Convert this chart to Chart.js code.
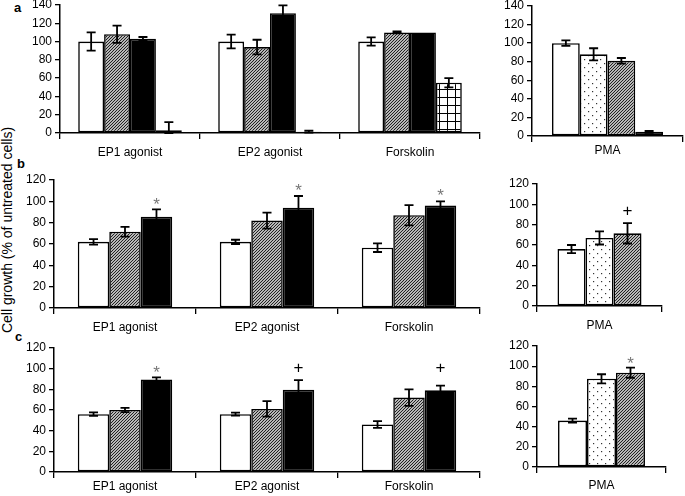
<!DOCTYPE html>
<html>
<head>
<meta charset="utf-8">
<script src="https://cdn.jsdelivr.net/npm/chart.js@4.4.0/dist/chart.umd.min.js"></script>
<style>
body { margin: 0; background: #fff; width: 685px; height: 496px; position: relative; overflow: hidden; font-family: 'Liberation Sans', Arial, sans-serif; }
canvas { position: absolute; }
.letter { position: absolute; font-weight: bold; font-size: 13px; line-height: 13px; }
#ytitle { position: absolute; left: 7px; top: 230px; font-size: 14px; white-space: nowrap; transform: translate(-50%, -50%) rotate(-90deg); }
</style>
</head>
<body>
<div class="letter" style="left:14px;top:1px">a</div>
<div class="letter" style="left:17px;top:157px">b</div>
<div class="letter" style="left:15px;top:330px">c</div>
<div id="ytitle">Cell growth (% of untreated cells)</div>
<canvas id="aLeft"></canvas>
<canvas id="aRight"></canvas>
<canvas id="bLeft"></canvas>
<canvas id="bRight"></canvas>
<canvas id="cLeft"></canvas>
<canvas id="cRight"></canvas>
<script>
const groupLabels = ['EP1 agonist', 'EP2 agonist', 'Forskolin'];
const pmaLabels = ['PMA'];

// panel a, agonists
const aWhite = [100, 100, 100];
const aWhiteErr = [10, 7.5, 4.5];
const aHatch = [108, 94, 110];
const aHatchErr = [9.5, 8, 1];
const aBlack = [103, 131, 110];
const aBlackErr = [2, 8.5, 0];
const aGrid = [3, 1.5, 55];
const aGridErr = [9, 1, 5];

// panel a, PMA
const aPmaWhite = [100];
const aPmaWhiteErr = [3];
const aPmaDots = [88];
const aPmaDotsErr = [6.5];
const aPmaHatch = [81];
const aPmaHatchErr = [3];
const aPmaBlack = [4.5];
const aPmaBlackErr = [1];

// panel b
const bWhite = [62, 62, 56.5];
const bWhiteErr = [2.5, 2, 4];
const bHatch = [71.5, 82, 87];
const bHatchErr = [4.5, 7.5, 9.5];
const bBlack = [85.5, 94, 96];
const bBlackErr = [7, 11, 4];
const bMarks = ['*', '*', '*'];
const bMarkAt = [100, 113, 108];

const bPmaWhite = [56];
const bPmaWhiteErr = [4];
const bPmaDots = [67];
const bPmaDotsErr = [6.5];
const bPmaHatch = [71.5];
const bPmaHatchErr = [10];
const bPmaMarks = ['+'];
const bPmaMarkAt = [93.5];

// panel c
const cWhite = [56, 56, 46];
const cWhiteErr = [1.7, 1.5, 3.3];
const cHatch = [60, 61, 72];
const cHatchErr = [2, 7.5, 8];
const cBlack = [89.5, 79.5, 79];
const cBlackErr = [2, 9.5, 4.5];
const cMarks = ['*', '+', '+'];
const cMarkAt = [99, 100.5, 100.5];

const cPmaWhite = [46];
const cPmaWhiteErr = [2];
const cPmaDots = [87.5];
const cPmaDotsErr = [4.5];
const cPmaHatch = [93.5];
const cPmaHatchErr = [5];
const cPmaMarks = ['*'];
const cPmaMarkAt = [105.5];

Chart.defaults.font.family = "'Liberation Sans', Arial, sans-serif";
Chart.defaults.font.size = 12;
Chart.defaults.color = '#000';

function tile(size, draw) {
    const c = document.createElement('canvas');
    c.width = size;
    c.height = size;
    const g = c.getContext('2d');
    g.fillStyle = '#fff';
    g.fillRect(0, 0, size, size);
    draw(g);
    return g.createPattern(c, 'repeat');
}

// dense "/" hatching
const hatch = tile(3, g => {
    g.strokeStyle = '#1a1a1a';
    g.lineWidth = 1.2;
    g.beginPath();
    g.moveTo(-1, 4); g.lineTo(4, -1);
    g.moveTo(-1, 1); g.lineTo(1, -1);
    g.moveTo(2, 4); g.lineTo(4, 2);
    g.stroke();
});

const dots = tile(8, g => {
    g.fillStyle = '#333';
    g.fillRect(1, 1, 1.2, 1.2);
    g.fillRect(5, 5, 1.2, 1.2);
});

const grid = tile(8, g => {
    g.fillStyle = '#000';
    g.fillRect(0, 0, 8, 1);
    g.fillRect(0, 0, 1, 8);
});

const errorBars = {
    id: 'errorBars',
    afterDatasetsDraw(chart) {
        const ctx = chart.ctx;
        const y = chart.scales.y;
        ctx.save();
        ctx.strokeStyle = '#000';
        ctx.lineWidth = 1.8;
        chart.data.datasets.forEach((ds, di) => {
            const meta = chart.getDatasetMeta(di);
            meta.data.forEach((bar, i) => {
                const v = ds.data[i];
                const e = ds.err[i];
                if (!e) return;
                const top = y.getPixelForValue(v + e);
                const bot = y.getPixelForValue(Math.max(v - e, 0));
                ctx.beginPath();
                ctx.moveTo(bar.x, top); ctx.lineTo(bar.x, bot);
                ctx.moveTo(bar.x - 4.5, top); ctx.lineTo(bar.x + 4.5, top);
                ctx.moveTo(bar.x - 4.5, bot); ctx.lineTo(bar.x + 4.5, bot);
                ctx.stroke();
            });
        });
        const marks = chart.options.plugins.errorBars;
        if (marks && marks.text) {
            const meta = chart.getDatasetMeta(marks.series);
            ctx.textAlign = 'center';
            ctx.textBaseline = 'middle';
            marks.text.forEach((t, i) => {
                const x = meta.data[i].x;
                const py = y.getPixelForValue(marks.at[i]);
                if (t === '*') {
                    ctx.fillStyle = '#777';
                    ctx.font = "17px 'Liberation Sans', Arial, sans-serif";
                    ctx.fillText(t, x, py + 4);
                } else {
                    ctx.fillStyle = '#000';
                    ctx.font = "17px 'Liberation Sans', Arial, sans-serif";
                    ctx.fillText(t, x, py);
                }
            });
        }
        ctx.restore();
    }
};

function panel(id, geo, labels, sets, marks) {
    const yw = 45, padTop = 12, padRight = 4, xh = 30;
    const cv = document.getElementById(id);
    const left = Math.round(geo.axisX - yw);
    const top = Math.round(geo.topY - padTop);
    cv.style.left = left + 'px';
    cv.style.top = top + 'px';
    cv.width = Math.round(geo.rightX - left + padRight);
    cv.height = Math.round(geo.bottomY - top + xh);

    new Chart(cv, {
        type: 'bar',
        data: {
            labels: labels,
            datasets: sets.map(s => ({
                data: s[0],
                err: s[1],
                backgroundColor: s[2],
                borderColor: '#000',
                borderWidth: 1.6,
                borderSkipped: false,
                categoryPercentage: geo.cat,
                barPercentage: 1
            }))
        },
        options: {
            responsive: false,
            animation: false,
            events: [],
            layout: { padding: { left: 0, top: padTop, right: padRight, bottom: 0 } },
            plugins: {
                legend: { display: false },
                tooltip: { enabled: false },
                errorBars: marks || {}
            },
            scales: {
                x: {
                    grid: { offset: true, drawOnChartArea: false, tickLength: 6, color: '#000', lineWidth: 1.3 },
                    border: { color: '#000', width: 1.5 },
                    ticks: { color: '#000', padding: geo.labelPad, maxRotation: 0 },
                    afterFit: s => { s.height = xh; }
                },
                y: {
                    min: 0,
                    max: geo.max,
                    grid: { drawOnChartArea: false, tickLength: 5, color: '#000', lineWidth: 1.3 },
                    border: { color: '#000', width: 1.5 },
                    ticks: { stepSize: 20, color: '#000', padding: 3 },
                    afterFit: s => { s.width = yw; }
                }
            }
        },
        plugins: [errorBars]
    });
}

panel('aLeft', { axisX: 60, rightX: 480, topY: 5, bottomY: 133, max: 140, cat: 0.74, labelPad: 6 }, groupLabels, [
    [aWhite, aWhiteErr, '#fff'],
    [aHatch, aHatchErr, hatch],
    [aBlack, aBlackErr, '#000'],
    [aGrid, aGridErr, grid]
]);

panel('aRight', { axisX: 532, rightX: 683, topY: 5.7, bottomY: 136, max: 140, cat: 0.735, labelPad: 1 }, pmaLabels, [
    [aPmaWhite, aPmaWhiteErr, '#fff'],
    [aPmaDots, aPmaDotsErr, dots],
    [aPmaHatch, aPmaHatchErr, hatch],
    [aPmaBlack, aPmaBlackErr, '#000']
]);

panel('bLeft', { axisX: 54, rightX: 480, topY: 180, bottomY: 308, max: 120, cat: 0.665, labelPad: 6 }, groupLabels, [
    [bWhite, bWhiteErr, '#fff'],
    [bHatch, bHatchErr, hatch],
    [bBlack, bBlackErr, '#000']
], { series: 2, text: bMarks, at: bMarkAt });

panel('bRight', { axisX: 537, rightX: 662, topY: 184.3, bottomY: 305.7, max: 120, cat: 0.672, labelPad: 6 }, pmaLabels, [
    [bPmaWhite, bPmaWhiteErr, '#fff'],
    [bPmaDots, bPmaDotsErr, dots],
    [bPmaHatch, bPmaHatchErr, hatch]
], { series: 2, text: bPmaMarks, at: bPmaMarkAt });

panel('cLeft', { axisX: 54, rightX: 480, topY: 348.3, bottomY: 471.7, max: 120, cat: 0.665, labelPad: 1 }, groupLabels, [
    [cWhite, cWhiteErr, '#fff'],
    [cHatch, cHatchErr, hatch],
    [cBlack, cBlackErr, '#000']
], { series: 2, text: cMarks, at: cMarkAt });

panel('cRight', { axisX: 537, rightX: 666, topY: 345.7, bottomY: 466.7, max: 120, cat: 0.674, labelPad: 5 }, pmaLabels, [
    [cPmaWhite, cPmaWhiteErr, '#fff'],
    [cPmaDots, cPmaDotsErr, dots],
    [cPmaHatch, cPmaHatchErr, hatch]
], { series: 2, text: cPmaMarks, at: cPmaMarkAt });
</script>
</body>
</html>
